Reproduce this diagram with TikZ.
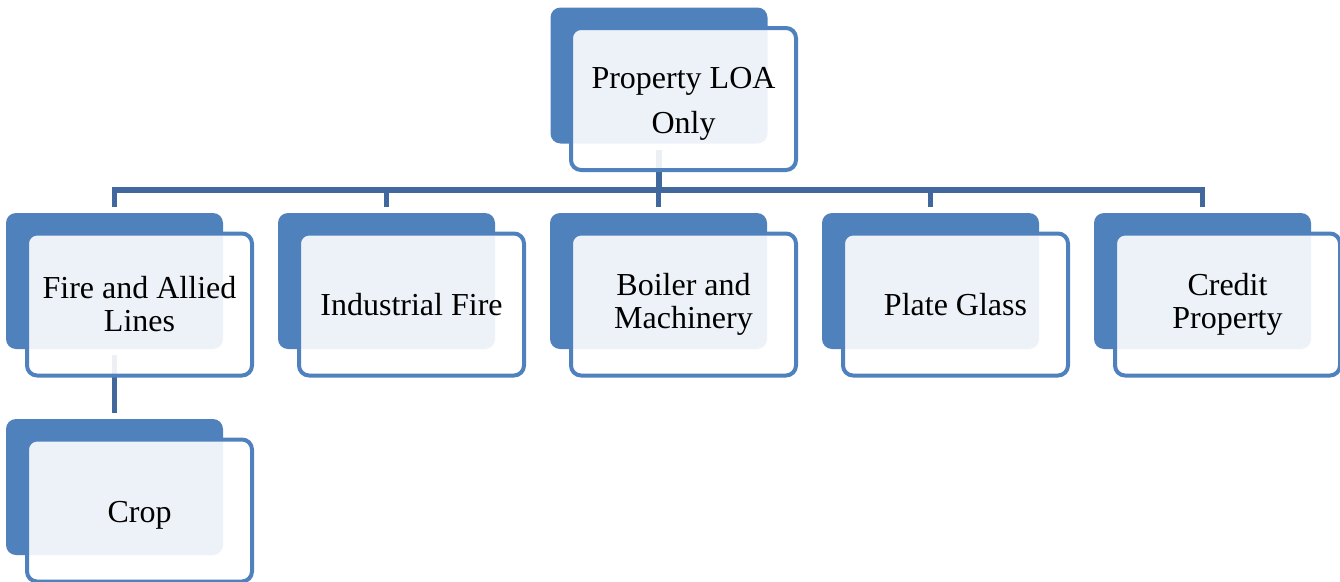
\documentclass[tikz,border=0pt]{standalone}
\usepackage{fontspec}
\setmainfont{Liberation Serif}
\usetikzlibrary{positioning}

\definecolor{accent}{HTML}{4F81BD}
\definecolor{linkblue}{HTML}{41689C}

\tikzset{
  backbox/.style={fill=accent, draw=none, rounded corners=7.5pt,
    minimum width=162.75pt, minimum height=102pt, inner sep=0pt},
  frontbox/.style={fill=white, fill opacity=0.9, text opacity=1,
    draw=accent, line width=3pt, rounded corners=7.5pt,
    minimum width=168.75pt, minimum height=106.5pt, inner sep=0pt,
    align=center, font=\fontsize{24}{24.75}\selectfont},
  link/.style={draw=linkblue, line width=3.8pt, shorten <=4.5pt, shorten >=4pt}
}

\begin{document}
\begin{tikzpicture}[x=0.75pt,y=-0.75pt]

  \useasboundingbox (0,0) rectangle (1340,582);

  \def\rowy{281}
  \def\cropy{487}

  % back plates
  \node[backbox] (root-b) at (659,75.5) {};
  \node[backbox] (fire-b) at (114.5,\rowy) {};
  \node[backbox] (industrial-b) at (386.5,\rowy) {};
  \node[backbox] (boiler-b) at (658.5,\rowy) {};
  \node[backbox] (glass-b) at (930.5,\rowy) {};
  \node[backbox] (credit-b) at (1202.5,\rowy) {};
  \node[backbox] (crop-b) at (114.5,\cropy) {};

  % connectors
  \coordinate (bus) at (659,190);
  \foreach \n in {fire,industrial,boiler,glass,credit}
    \draw[link] (root-b.south) |- (bus) -| (\n-b.north);
  \draw[link] (fire-b.south) -- (crop-b.north);

  % front cards
  \node[frontbox, font=\fontsize{24}{33.75}\selectfont] (root) at (683.5,99)
    {\rule{0pt}{23.8pt}Property LOA\\Only};
  \node[frontbox] (fire) at (139.5,304.5) {Fire and Allied\\Lines};
  \node[frontbox] (industrial) at (411.5,304.5) {Industrial Fire};
  \node[frontbox] (boiler) at (683.5,304.5) {Boiler and\\Machinery};
  \node[frontbox] (glass) at (955.5,304.5) {Plate Glass};
  \node[frontbox] (credit) at (1227.5,304.5) {Credit\\Property};
  \node[frontbox] (crop) at (139.5,510.5) {\rule{0pt}{23.1pt}Crop};

\end{tikzpicture}
\end{document}
